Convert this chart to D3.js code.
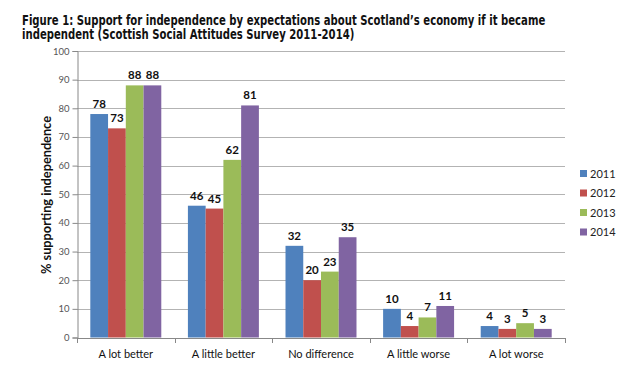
<!DOCTYPE html>
<html>
<head>
<meta charset="utf-8">
<script src="https://cdn.jsdelivr.net/npm/d3@7"></script>
<style>
  body { margin: 0; background: #fff; }
  svg { display: block; }
</style>
</head>
<body>
<svg width="640" height="372"></svg>
<script>
// chart data
var categories = ['A lot better', 'A little better', 'No difference', 'A little worse', 'A lot worse'];
var years = ['2011', '2012', '2013', '2014'];
var values2011 = [78, 46, 32, 10, 4];
var values2012 = [73, 45, 20, 4, 3];
var values2013 = [88, 62, 23, 7, 5];
var values2014 = [88, 81, 35, 11, 3];
var yTicks = [0, 10, 20, 30, 40, 50, 60, 70, 80, 90, 100];
var titleLines = ['Figure 1: Support for independence by expectations about Scotland\u2019s economy if it became',
                  'independent (Scottish Social Attitudes Survey 2011-2014)'];

var series = [values2011, values2012, values2013, values2014];
var colors = d3.scaleOrdinal().domain(years).range(['#4F81BD', '#C0504D', '#9BBB59', '#8064A2']);

var svg = d3.select('svg');
var font = 'Lato, "Open Sans", sans-serif';

// shrink or grow a text so it spans the given width
function fitWidth(sel, target){
    sel.each(function(){
        var w = this.getComputedTextLength();
        var fs = parseFloat(d3.select(this).attr('font-size'));
        d3.select(this).attr('font-size', fs * target / w);
    });
}

// title - a tall font squeezed sideways, like the Tahoma of the original
var titleG = svg.append('g');
var title = titleG.selectAll('text')
    .data(titleLines)
    .enter()
    .append('text')
    .attr('x', 0)
    .attr('y', function(d, i){ return 25 + i * 14.5; })
    .attr('font-family', '"DejaVu Sans Condensed", "DejaVu Sans", sans-serif')
    .attr('font-weight', 'bold')
    .attr('font-size', 13.2)
    .attr('fill', '#111')
    .text(function(d){ return d; });
var sx = 523 / title.nodes()[0].getComputedTextLength();
titleG.attr('transform', 'translate(22,0) scale(' + sx + ',1)');

var scaleX = d3.scaleBand().domain(categories).range([77, 565]);
var scaleX1 = d3.scaleBand().domain(years).range([0, scaleX.bandwidth()]).paddingOuter(0.75);
var scaleY = d3.scaleLinear().domain([0, 100]).range([337.5, 51]);

// gridlines
svg.append('g').selectAll('line')
    .data(yTicks.slice(1))
    .enter()
    .append('line')
    .attr('x1', 77)
    .attr('x2', 565)
    .attr('y1', function(d){ return Math.round(scaleY(d)) + 0.5; })
    .attr('y2', function(d){ return Math.round(scaleY(d)) + 0.5; })
    .attr('stroke', '#b3b3b3')
    .attr('stroke-width', 1);

// bars
var groups = svg.append('g').selectAll('g')
    .data(categories)
    .enter()
    .append('g')
    .attr('transform', function(d){ return 'translate(' + scaleX(d) + ',0)'; });

groups.selectAll('rect')
    .data(function(d, i){ return years.map(function(y, j){ return {year: y, value: series[j][i]}; }); })
    .enter()
    .append('rect')
    .attr('x', function(d){ return scaleX1(d.year); })
    .attr('width', scaleX1.bandwidth())
    .attr('y', function(d){ return scaleY(d.value); })
    .attr('height', function(d){ return scaleY(0) - scaleY(d.value); })
    .attr('fill', function(d){ return colors(d.year); });

groups.selectAll('text')
    .data(function(d, i){ return years.map(function(y, j){ return {year: y, value: series[j][i]}; }); })
    .enter()
    .append('text')
    .attr('x', function(d){ return scaleX1(d.year) + scaleX1.bandwidth() / 2; })
    .attr('y', function(d){ return scaleY(d.value) - 6; })
    .attr('text-anchor', 'middle')
    .attr('font-family', font)
    .attr('font-weight', 'bold')
    .attr('font-size', 11.5)
    .attr('fill', '#111')
    .text(function(d){ return d.value; });

// y axis
var yAxis = svg.append('g')
    .attr('transform', 'translate(77.5,0)')
    .call(d3.axisLeft(scaleY).tickValues(yTicks).tickSize(5).tickPadding(3));
yAxis.selectAll('text').attr('font-family', font).attr('font-size', 9.5).attr('fill', '#555');

// x axis
var xAxis = svg.append('g')
    .attr('transform', 'translate(0,338)')
    .call(d3.axisBottom(scaleX).tickSize(0).tickPadding(12));
xAxis.selectAll('text').attr('font-family', font).attr('font-size', 11).attr('fill', '#111');
xAxis.append('g').selectAll('line')
    .data(d3.range(categories.length + 1))
    .enter()
    .append('line')
    .attr('x1', function(d){ return Math.round(77 + d * scaleX.step()) + 0.5; })
    .attr('x2', function(d){ return Math.round(77 + d * scaleX.step()) + 0.5; })
    .attr('y1', 0)
    .attr('y2', 5)
    .attr('stroke', '#888');

svg.selectAll('.domain').attr('stroke', '#888');
svg.selectAll('.tick line').attr('stroke', '#888');

// y axis title
var yTitle = svg.append('text')
    .attr('transform', 'translate(51,195) rotate(-90)')
    .attr('text-anchor', 'middle')
    .attr('font-family', font)
    .attr('font-weight', 'bold')
    .attr('font-size', 12)
    .attr('fill', '#111')
    .text('% supporting independence');
fitWidth(yTitle, 158);

// legend
var legend = svg.append('g').selectAll('g')
    .data(years)
    .enter()
    .append('g')
    .attr('transform', function(d, i){ return 'translate(580,' + (170 + i * 19.5) + ')'; });
legend.append('rect')
    .attr('width', 7)
    .attr('height', 7)
    .attr('fill', function(d){ return colors(d); });
legend.append('text')
    .attr('x', 10)
    .attr('y', 7.5)
    .attr('font-family', font)
    .attr('font-size', 11)
    .attr('fill', '#222')
    .text(function(d){ return d; });
</script>
</body>
</html>
